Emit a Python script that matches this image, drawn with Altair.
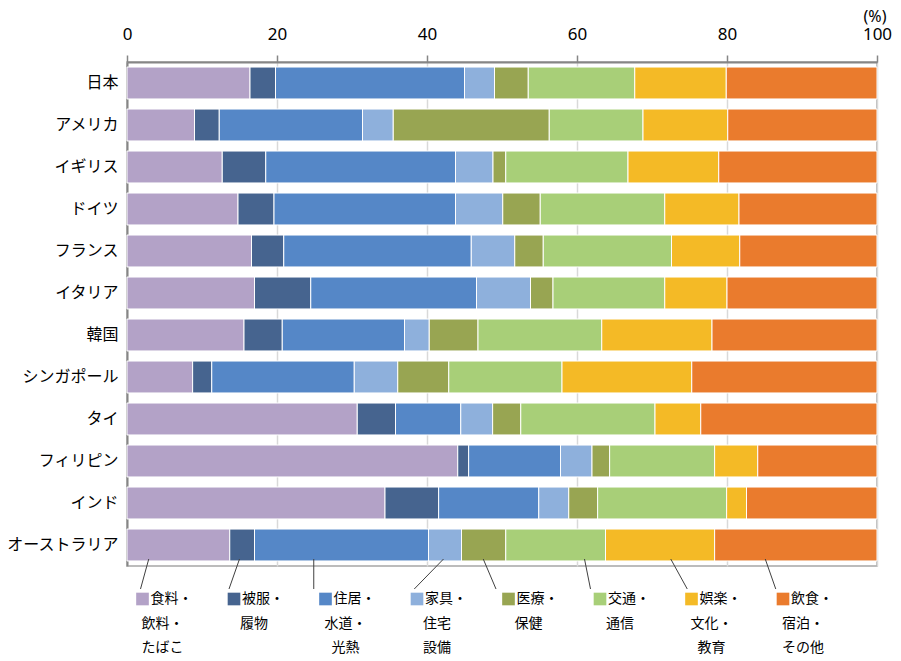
import altair as alt
import pandas as pd

countries = ["日本", "アメリカ", "イギリス", "ドイツ", "フランス", "イタリア", "韓国",
             "シンガポール", "タイ", "フィリピン", "インド", "オーストラリア"]
categories = ["食料・飲料・たばこ", "被服・履物", "住居・水道・光熱", "家具・住宅設備",
              "医療・保健", "交通・通信", "娯楽・文化・教育", "飲食・宿泊・その他"]
legend_line1 = ["食料・", "被服・", "住居・", "家具・", "医療・", "交通・", "娯楽・", "飲食・"]
legend_line2 = ["飲料・", "履物", "水道・", "住宅", "保健", "通信", "文化・", "宿泊・"]
legend_line3 = ["たばこ", "", "光熱", "設備", "", "", "教育", "その他"]
colors = ["#B3A2C7", "#46648F", "#5587C7", "#8EB0DC", "#98A552", "#A8CF78", "#F4BA26", "#EA7B2D"]

food = [16.4, 9.0, 12.7, 14.8, 16.6, 17.0, 15.6, 8.75, 30.7, 44.1, 34.4, 13.7]
clothing = [3.4, 3.3, 5.8, 4.8, 4.3, 7.5, 5.1, 2.55, 5.1, 1.45, 7.15, 3.3]
housing = [25.2, 19.1, 25.3, 24.2, 25.0, 22.1, 16.3, 19.0, 8.7, 12.25, 13.35, 23.2]
furniture = [4.0, 4.1, 5.0, 6.3, 5.8, 7.2, 3.3, 5.8, 4.25, 4.2, 4.0, 4.4]
medical = [4.5, 20.8, 1.7, 5.0, 3.8, 3.0, 6.5, 6.8, 3.75, 2.35, 3.85, 5.9]
transport = [14.2, 12.5, 16.3, 16.6, 17.1, 14.9, 16.5, 15.1, 17.9, 14.0, 17.2, 13.3]
recreation = [12.2, 11.3, 12.1, 9.9, 9.1, 8.3, 14.7, 17.3, 6.1, 5.75, 2.65, 14.55]
restaurants = [20.1, 19.9, 21.1, 18.4, 18.3, 20.0, 22.0, 24.7, 23.5, 15.9, 17.4, 21.65]

# leader-line anchors (x in %): start inside the last bar, end at legend
leader_from = [2.9, 15.0, 24.9, 42.2, 47.5, 61.0, 72.5, 85.1]
leader_to = [1.8, 13.6, 24.9, 38.3, 49.2, 61.8, 74.7, 86.5]

series = [food, clothing, housing, furniture, medical, transport, recreation, restaurants]
rows = []
for ci, (cat, vals) in enumerate(zip(categories, series)):
    for c, v in zip(countries, vals):
        rows.append({"country": c, "cat": cat, "ci": ci, "value": v})
df = pd.DataFrame(rows)

leg = pd.DataFrame({
    "i": list(range(len(categories))),
    "cat": categories,
    "l1": legend_line1,
    "l2": legend_line2,
    "l3": legend_line3,
    "from": leader_from,
    "to": leader_to,
})

color_scale = alt.Scale(domain=categories, range=colors)
x_scale = alt.Scale(domain=[0, 100], nice=False)

bars = alt.Chart(df).mark_bar(stroke="white", strokeWidth=1).encode(
    x=alt.X("value:Q", stack="zero", scale=x_scale,
            axis=alt.Axis(orient="top", title=None, values=[0, 20, 40, 60, 80, 100],
                          grid=True, gridColor="#D9D9D9", gridWidth=1.5,
                          domainColor="#868686", domainWidth=2,
                          tickColor="#868686", tickWidth=1.5, tickSize=7,
                          labelFont="Noto Sans", labelFontSize=17, labelColor="#000000",
                          labelPadding=12, labelFlush=False, labelOverlap=False)),
    y=alt.Y("country:N", sort=countries,
            scale=alt.Scale(paddingInner=0.24, paddingOuter=0.12),
            axis=alt.Axis(title=None, ticks=False, domainColor="#868686", domainWidth=2,
                          labelFont="Noto Sans CJK JP", labelFontSize=16,
                          labelColor="#000000", labelPadding=9)),
    color=alt.Color("cat:N", scale=color_scale, legend=None),
    order=alt.Order("ci:Q"),
)

legbase = alt.Chart(leg).transform_calculate(lc="5.0 + 12.2 * datum.i")

leaders = legbase.mark_rule(color="#404040", strokeWidth=1).encode(
    x=alt.X("from:Q", scale=x_scale),
    x2="to:Q",
    y=alt.value(497),
    y2=alt.value(527),
)

boxes = legbase.mark_square(size=160, opacity=1, xOffset=-22).encode(
    x=alt.X("lc:Q", scale=x_scale),
    y=alt.value(537),
    color=alt.Color("cat:N", scale=color_scale, legend=None),
)

txt_kw = dict(font="Noto Sans CJK JP", fontSize=14, color="#000000", baseline="middle")
t1 = legbase.mark_text(align="left", dx=-14, **txt_kw).encode(
    x=alt.X("lc:Q", scale=x_scale), y=alt.value(537), text="l1:N")
t2 = legbase.mark_text(align="center", dx=-2, **txt_kw).encode(
    x=alt.X("lc:Q", scale=x_scale), y=alt.value(562), text="l2:N")
t3 = legbase.mark_text(align="center", dx=-2, **txt_kw).encode(
    x=alt.X("lc:Q", scale=x_scale), y=alt.value(586), text="l3:N")

unit = alt.Chart(pd.DataFrame({"t": ["(%)"], "x": [100]})).mark_text(
    align="center", baseline="middle", font="Noto Sans", fontSize=16, color="#000000",
    dx=-2
).encode(x=alt.X("x:Q", scale=x_scale), y=alt.value(-45), text="t:N")

chart = alt.layer(bars, leaders, boxes, t1, t2, t3, unit).properties(
    width=750, height=504,
    autosize=alt.AutoSizeParams(type="none"),
    padding={"left": 119, "top": 54, "right": 16, "bottom": 91},
).configure_view(stroke="#A6A6A6", strokeWidth=1.5)

chart.save("out.html", embed_options={"renderer": "svg", "actions": False})
